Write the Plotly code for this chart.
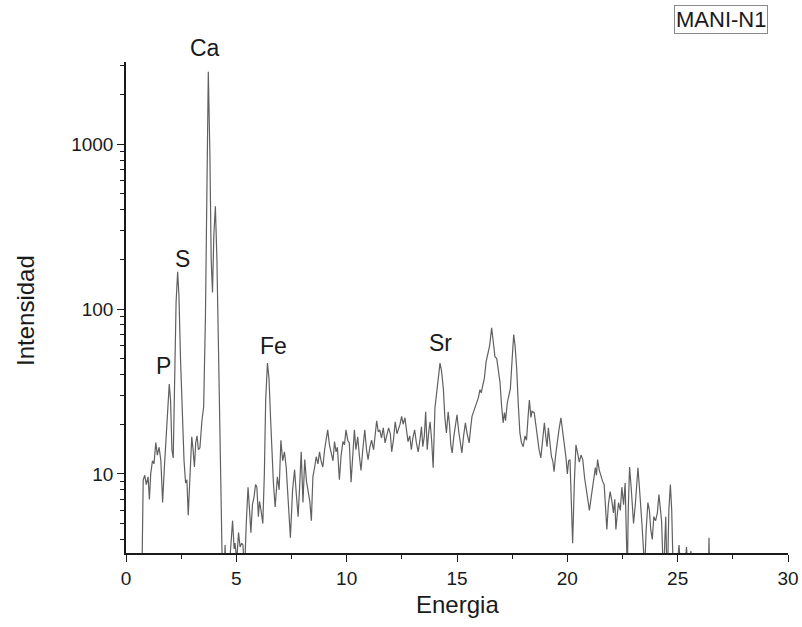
import plotly.graph_objects as go

energy = [
    0.70, 0.78, 0.85, 0.92, 1.00, 1.06, 1.12, 1.20, 1.27, 1.35, 1.42, 1.50, 1.58, 1.66, 1.74, 1.82,
    1.90, 1.96, 2.02, 2.08, 2.14, 2.20, 2.27, 2.34, 2.40, 2.47, 2.55, 2.63, 2.70, 2.76, 2.82, 2.90,
    2.98, 3.04, 3.10, 3.16, 3.22, 3.28, 3.35, 3.44, 3.52, 3.60, 3.67, 3.73, 3.80, 3.86, 3.92, 3.98,
    4.05, 4.12, 4.20, 4.30, 4.38, 4.45, 4.49, 4.55, 4.65, 4.72, 4.83, 4.90, 4.94, 5.02, 5.10, 5.17,
    5.24, 5.30, 5.37, 5.45, 5.53, 5.60, 5.66, 5.73, 5.80, 5.87, 5.93, 6.00, 6.05, 6.12, 6.20, 6.27,
    6.33, 6.41, 6.48, 6.55, 6.62, 6.68, 6.76, 6.86, 6.94, 7.02, 7.10, 7.18, 7.26, 7.35, 7.45, 7.55,
    7.64, 7.72, 7.80, 7.88, 7.94, 8.02, 8.10, 8.18, 8.26, 8.33, 8.40, 8.47, 8.55, 8.62, 8.70, 8.77,
    8.84, 8.92, 9.00, 9.07, 9.14, 9.22, 9.30, 9.38, 9.45, 9.52, 9.58, 9.67, 9.75, 9.83, 9.90, 9.97,
    10.05, 10.12, 10.20, 10.28, 10.35, 10.42, 10.50, 10.58, 10.65, 10.73, 10.82, 10.90, 10.97, 11.05,
    11.13, 11.22, 11.30, 11.36, 11.43, 11.50, 11.58, 11.66, 11.74, 11.82, 11.90, 11.98, 12.04, 12.12,
    12.20, 12.28, 12.34, 12.42, 12.49, 12.56, 12.64, 12.72, 12.78, 12.86, 12.93, 13.00, 13.08, 13.16,
    13.24, 13.32, 13.39, 13.45, 13.52, 13.58, 13.65, 13.72, 13.78, 13.85, 13.92, 14.00, 14.08, 14.16,
    14.23, 14.30, 14.38, 14.45, 14.52, 14.60, 14.66, 14.72, 14.78, 14.86, 14.94, 15.00, 15.08, 15.15,
    15.22, 15.30, 15.38, 15.46, 15.55, 15.62, 15.68, 15.76, 15.84, 15.90, 15.97, 16.04, 16.10, 16.16,
    16.24, 16.32, 16.40, 16.48, 16.57, 16.64, 16.72, 16.80, 16.88, 16.95, 17.02, 17.09, 17.15, 17.20,
    17.28, 17.35, 17.42, 17.50, 17.57, 17.63, 17.70, 17.78, 17.85, 17.92, 18.00, 18.08, 18.15, 18.22,
    18.28, 18.35, 18.40, 18.50, 18.58, 18.65, 18.72, 18.80, 18.88, 18.96, 19.02, 19.08, 19.14, 19.20,
    19.28, 19.34, 19.40, 19.47, 19.54, 19.62, 19.71, 19.80, 19.88, 19.94, 20.00, 20.06, 20.12, 20.18,
    20.24, 20.32, 20.39, 20.46, 20.54, 20.62, 20.70, 20.78, 20.85, 20.92, 21.00, 21.08, 21.15, 21.22,
    21.27, 21.32, 21.37, 21.45, 21.52, 21.60, 21.67, 21.73, 21.79, 21.86, 21.94, 22.02, 22.09, 22.15,
    22.20, 22.26, 22.32, 22.40, 22.47, 22.55, 22.62, 22.68, 22.72, 22.76, 22.82, 22.90, 23.00, 23.08,
    23.14, 23.20, 23.26, 23.30, 23.38, 23.45, 23.50, 23.57, 23.65, 23.72, 23.78, 23.85, 23.92, 24.00,
    24.08, 24.15, 24.22, 24.27, 24.33, 24.37, 24.42, 24.46, 24.50, 24.54, 24.60, 24.67, 24.73, 24.80,
    24.90, 25.06, 25.15, 25.25, 25.40, 25.48, 25.60, 25.68, 26.38, 26.42, 26.46, 26.60,
]

intensity = [
    1.5, 9.2, 9.8, 8.6, 9.6, 7.0, 10.0, 12.0, 11.5, 15.5, 13.0, 14.5, 12.0, 6.7, 11.0, 16.0,
    26.0, 35.0, 28.0, 14.0, 12.5, 30.0, 110.0, 168.0, 120.0, 50.0, 22.0, 12.0, 8.8, 9.2, 5.6, 9.5,
    16.8, 14.0, 11.0, 15.5, 17.0, 14.0, 14.4, 21.0, 25.5, 90.0, 700.0, 2750.0, 900.0, 200.0, 126.0, 280.0,
    420.0, 200.0, 49.0, 8.0, 2.0, 2.5, 3.7, 2.0, 2.5, 3.2, 5.2, 3.5, 3.8, 3.0, 4.4, 3.6,
    3.8, 3.7, 2.5, 5.0, 8.3, 6.0, 4.4, 6.5, 7.2, 8.6, 8.3, 5.5, 6.8, 6.0, 5.0, 10.0,
    28.0, 47.0, 38.0, 22.0, 12.0, 8.8, 6.3, 9.6, 8.0, 16.0, 12.0, 13.6, 11.0, 6.3, 4.1, 8.0,
    10.6, 7.5, 5.5, 9.0, 13.6, 6.7, 12.2, 9.0, 7.6, 6.8, 5.2, 9.6, 11.0, 12.7, 11.5, 13.6,
    12.0, 11.0, 14.0, 16.0, 18.5, 15.0, 13.4, 12.0, 15.7, 13.6, 14.5, 9.2, 13.0, 15.7, 15.0, 18.5,
    16.0, 15.4, 8.9, 13.0, 18.5, 14.0, 16.8, 12.7, 10.5, 14.0, 18.5, 14.0, 12.2, 14.5,
    16.0, 14.0, 17.0, 21.0, 18.0, 18.5, 16.5, 19.0, 15.4, 17.0, 19.0, 17.5, 13.6, 16.0,
    20.7, 17.5, 18.5, 20.0, 22.3, 20.0, 21.9, 18.0, 15.7, 17.0, 14.0, 16.5, 18.5, 15.4,
    13.6, 16.0, 19.3, 14.6, 17.0, 23.8, 14.0, 18.0, 20.7, 16.0, 10.9, 25.0, 32.0, 42.0,
    47.0, 42.0, 33.0, 22.0, 17.7, 23.8, 20.0, 15.0, 13.4, 17.0, 21.0, 22.8, 18.0, 15.0,
    13.4, 17.0, 20.4, 17.5, 15.4, 19.0, 22.3, 24.0, 26.0, 27.0, 29.0, 32.4, 31.0, 34.0,
    38.0, 48.0, 54.5, 60.0, 77.0, 62.0, 51.4, 50.0, 42.0, 35.8, 26.0, 20.4, 23.5, 21.0,
    27.0, 30.0, 33.0, 50.0, 70.0, 60.0, 44.6, 26.0, 17.7, 15.5, 14.6, 17.0, 16.0, 22.0,
    28.0, 22.0, 24.0, 23.5, 19.0, 16.0, 14.0, 12.5, 16.0, 20.4, 17.0, 14.6, 19.0, 16.0,
    12.7, 12.0, 10.3, 13.0, 16.0, 18.5, 21.9, 17.7, 15.4, 12.5, 10.0, 12.0, 12.2, 7.0,
    3.8, 9.0, 15.0, 13.5, 11.8, 13.0, 12.2, 9.5, 8.0, 7.0, 6.0, 7.2, 8.3, 9.5,
    10.9, 9.8, 12.2, 10.5, 9.6, 9.0, 8.6, 6.5, 4.6, 6.5, 7.8, 6.8, 5.8, 7.0,
    4.6, 5.6, 6.7, 6.0, 8.3, 6.5, 8.8, 4.0, 2.5, 6.0, 11.0, 8.0, 5.0, 6.5,
    8.0, 10.9, 8.5, 6.7, 5.0, 3.5, 2.5, 4.5, 6.7, 6.0, 4.6, 4.0, 5.5, 5.2,
    5.8, 7.5, 6.0, 5.2, 3.0, 2.5, 4.0, 5.5, 3.0, 2.5, 6.0, 8.6, 6.0, 2.5,
    2.0, 3.7, 2.5, 2.0, 3.6, 2.5, 3.4, 2.0, 2.0, 4.1, 2.0, 1.5,
]

# peak labels: x in keV, y in log10(intensity)
peak_labels = ["P", "S", "Fe", "Sr"]
peak_label_x = [1.72, 2.54, 6.67, 14.27]
peak_label_logy = [1.652, 2.304, 1.774, 1.795]
# Ca label sits above the top of the axis, so it is placed in paper units
ca_label_x = 3.60
ca_label_paper_y = 1.0285

y_major = [10, 100, 1000]
y_minor = [4, 5, 6, 7, 8, 9, 20, 30, 40, 50, 60, 70, 80, 90,
           200, 300, 400, 500, 600, 700, 800, 900, 2000, 3000]

FONT = "Liberation Sans, Arial, sans-serif"
INK = "#1a1a1a"

fig = go.Figure()
fig.add_trace(go.Scatter(
    x=energy, y=intensity, mode="lines",
    line=dict(color="#606060", width=1.2),
    showlegend=False, hoverinfo="x+y",
))

for t, xv, yv in zip(peak_labels, peak_label_x, peak_label_logy):
    fig.add_annotation(x=xv, y=yv, xref="x", yref="y", text=t, showarrow=False,
                       xanchor="center", yanchor="middle",
                       font=dict(family=FONT, size=23, color=INK))
fig.add_annotation(x=ca_label_x, y=ca_label_paper_y, xref="x", yref="paper", text="Ca",
                   showarrow=False, xanchor="center", yanchor="middle",
                   font=dict(family=FONT, size=23, color=INK))

fig.add_annotation(x=0.8995, y=1.0866, xref="paper", yref="paper", text="MANI-N1",
                   showarrow=False, xanchor="center", yanchor="middle",
                   bordercolor="#8a8a8a", borderwidth=1, borderpad=1,
                   font=dict(family=FONT, size=22, color=INK))

# axis titles
fig.add_annotation(x=-0.1526, y=0.4949, xref="paper", yref="paper", text="Intensidad",
                   textangle=-90, showarrow=False, xanchor="center", yanchor="middle",
                   font=dict(family=FONT, size=24, color=INK))
fig.add_annotation(x=0.5, y=-0.1059, xref="paper", yref="paper", text="Energia",
                   showarrow=False, xanchor="center", yanchor="middle",
                   font=dict(family=FONT, size=24, color=INK))

# plot area at x 126..788, y 62..553 of the 802x627 page
fig.update_layout(
    width=802, height=627,
    margin=dict(l=126, r=14, t=62, b=74, autoexpand=False),
    paper_bgcolor="white", plot_bgcolor="white",
    font=dict(family=FONT, size=19, color=INK),
    xaxis=dict(
        range=[0, 30], tickmode="linear", tick0=0, dtick=5, automargin=False,
        ticks="outside", ticklen=7, tickwidth=1.3, tickcolor=INK,
        minor=dict(ticks="outside", ticklen=4, tickwidth=1.2, tickcolor=INK, dtick=2.5, tick0=0),
        showline=True, linecolor=INK, linewidth=1.5,
        showgrid=False, zeroline=False,
        tickfont=dict(family=FONT, size=19),
    ),
    yaxis=dict(
        type="log", range=[0.5198, 3.4985], automargin=False,
        tickmode="array", tickvals=y_major, ticktext=[str(v) for v in y_major],
        ticks="outside", ticklen=7, tickwidth=1.3, tickcolor=INK,
        minor=dict(ticks="outside", ticklen=4, tickwidth=1.2, tickcolor=INK,
                   tickmode="array", tickvals=y_minor),
        showline=True, linecolor=INK, linewidth=1.5,
        showgrid=False, zeroline=False,
        tickfont=dict(family=FONT, size=19),
    ),
)

# remove the browser's default 8px page margin so the figure fills the window
fig.write_html("out.html", config={"displayModeBar": False},
               post_script="document.body.style.margin='0';")
